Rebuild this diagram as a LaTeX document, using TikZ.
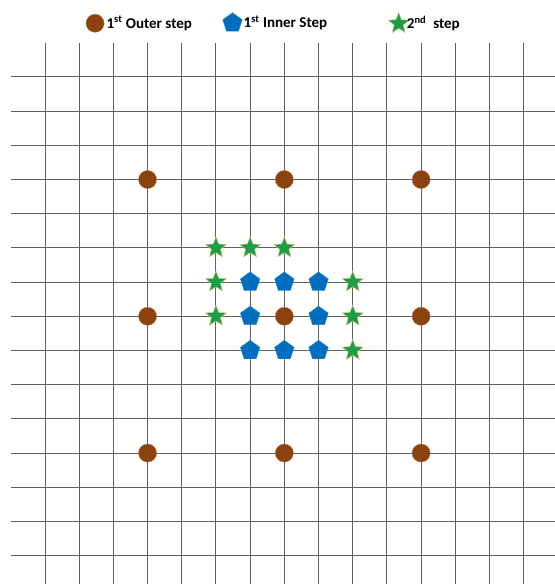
\documentclass[tikz,border=0pt]{standalone}
\usepackage{fontspec}
\setmainfont{Carlito}
\usetikzlibrary{positioning}
\usetikzlibrary{shapes.geometric}

\definecolor{outerbrown}{RGB}{140,66,14}
\definecolor{innerblue}{RGB}{0,110,190}
\definecolor{stargreen}{RGB}{28,158,72}

\tikzset{
  gridline/.style={black!62, line width=0.8pt},
  outerdot/.style={circle, fill=outerbrown, draw=outerbrown!70, line width=0.3pt, minimum size=0.53cm, inner sep=0pt},
  innerpent/.style={regular polygon, regular polygon sides=5, fill=innerblue, draw=innerblue!80, line width=0.3pt, minimum size=0.6cm, inner sep=0pt},
  secstar/.style={star, star points=5, star point ratio=2.3, fill=stargreen, draw=olive!45, line width=0.4pt, minimum size=0.64cm, inner sep=0pt},
  legtext/.style={font=\bfseries\fontsize{12.5}{14}\selectfont, inner sep=0pt, anchor=west}
}

\begin{document}
\begin{tikzpicture}[x=1cm, y=-1cm]
  \useasboundingbox (0,0) rectangle (16.23,17.08);

  % legend
  \node[outerdot] (lgo) at (2.78,0.68) {};
  \node[legtext, right=0.06cm of lgo] (lgotxt) {1\textsuperscript{st} Outer step};
  \node[innerpent] (lgi) at (6.8,0.67) {};
  \node[legtext, right=0.06cm of lgi] (lgitxt) {1\textsuperscript{st} Inner Step};
  \node[secstar] (lgs) at (11.66,0.69) {};
  \node[legtext, right=0.04cm of lgs] (lgstxt) {2\textsuperscript{nd}~ step};

  \begin{scope}[shift={(1.316,2.25)}]
    % grid
    \foreach \i in {0,...,14}{
      \draw[gridline] (\i,-0.99) -- (\i,14.83);
      \draw[gridline] (-1.0,\i) -- (14.92,\i);
    }
    % 1st outer step
    \foreach \c/\r [count=\k] in {3/3,7/3,11/3,3/7,7/7,11/7,3/11,7/11,11/11}
      \node[outerdot] (o\k) at (\c,\r) {};
    % 1st inner step
    \foreach \c/\r [count=\k] in {6/6,7/6,8/6,6/7,8/7,6/8,7/8,8/8}
      \node[innerpent] (p\k) at (\c,\r) {};
    % 2nd step
    \foreach \c/\r [count=\k] in {5/5,6/5,7/5,5/6,5/7,9/6,9/7,9/8}
      \node[secstar] (s\k) at (\c,\r) {};
  \end{scope}
\end{tikzpicture}
\end{document}
